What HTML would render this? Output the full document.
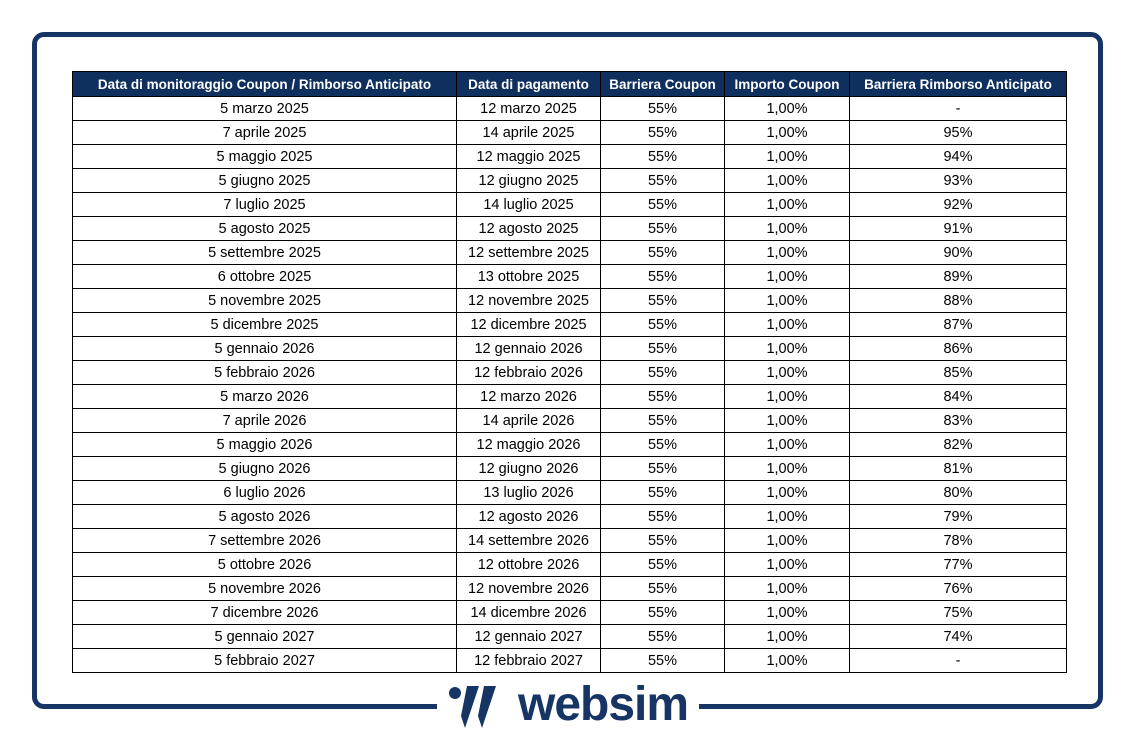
<!DOCTYPE html>
<html><head><meta charset="utf-8"><style>
body{margin:0;width:1136px;height:742px;background:#fff;position:relative;overflow:hidden;font-family:"Liberation Sans",sans-serif}
.frame{position:absolute;left:32px;top:32px;width:1061px;height:667px;border:5px solid #163564;border-radius:12px}
.gap{position:absolute;left:437px;top:695px;width:262px;height:20px;background:#fff}
table{position:absolute;left:72px;top:71px;border-collapse:collapse;font-size:14.5px;color:#000}
td,th{border:1px solid #000;height:23px;padding:0;text-align:center;white-space:nowrap}
th{background:#0f2f5e;color:#fff;font-weight:bold;height:24px;font-size:13.5px}
.logo{position:absolute;left:446px;top:682px;height:50px}
.w{position:absolute;left:518px;top:680px;font-size:48px;font-weight:bold;color:#163564;letter-spacing:-1px;line-height:50px}
</style></head><body>
<div class="frame"></div><div class="gap"></div>
<svg class="logo" width="60" height="50" viewBox="0 0 60 50">
<circle cx="9" cy="11" r="6" fill="#163564"/>
<polygon points="21,4 33,4 19,46 15,34" fill="#163564"/>
<polygon points="38,4 50,4 36,46 32,34" fill="#163564"/>
</svg>
<div class="w">websim</div>
<table>
<colgroup><col style="width:384px"><col style="width:144px"><col style="width:124px"><col style="width:125px"><col style="width:217px"></colgroup>
<tr><th>Data di monitoraggio Coupon / Rimborso Anticipato</th><th>Data di pagamento</th><th>Barriera Coupon</th><th>Importo Coupon</th><th>Barriera Rimborso Anticipato</th></tr>
<tr><td>5 marzo 2025</td><td>12 marzo 2025</td><td>55%</td><td>1,00%</td><td>-</td></tr>
<tr><td>7 aprile 2025</td><td>14 aprile 2025</td><td>55%</td><td>1,00%</td><td>95%</td></tr>
<tr><td>5 maggio 2025</td><td>12 maggio 2025</td><td>55%</td><td>1,00%</td><td>94%</td></tr>
<tr><td>5 giugno 2025</td><td>12 giugno 2025</td><td>55%</td><td>1,00%</td><td>93%</td></tr>
<tr><td>7 luglio 2025</td><td>14 luglio 2025</td><td>55%</td><td>1,00%</td><td>92%</td></tr>
<tr><td>5 agosto 2025</td><td>12 agosto 2025</td><td>55%</td><td>1,00%</td><td>91%</td></tr>
<tr><td>5 settembre 2025</td><td>12 settembre 2025</td><td>55%</td><td>1,00%</td><td>90%</td></tr>
<tr><td>6 ottobre 2025</td><td>13 ottobre 2025</td><td>55%</td><td>1,00%</td><td>89%</td></tr>
<tr><td>5 novembre 2025</td><td>12 novembre 2025</td><td>55%</td><td>1,00%</td><td>88%</td></tr>
<tr><td>5 dicembre 2025</td><td>12 dicembre 2025</td><td>55%</td><td>1,00%</td><td>87%</td></tr>
<tr><td>5 gennaio 2026</td><td>12 gennaio 2026</td><td>55%</td><td>1,00%</td><td>86%</td></tr>
<tr><td>5 febbraio 2026</td><td>12 febbraio 2026</td><td>55%</td><td>1,00%</td><td>85%</td></tr>
<tr><td>5 marzo 2026</td><td>12 marzo 2026</td><td>55%</td><td>1,00%</td><td>84%</td></tr>
<tr><td>7 aprile 2026</td><td>14 aprile 2026</td><td>55%</td><td>1,00%</td><td>83%</td></tr>
<tr><td>5 maggio 2026</td><td>12 maggio 2026</td><td>55%</td><td>1,00%</td><td>82%</td></tr>
<tr><td>5 giugno 2026</td><td>12 giugno 2026</td><td>55%</td><td>1,00%</td><td>81%</td></tr>
<tr><td>6 luglio 2026</td><td>13 luglio 2026</td><td>55%</td><td>1,00%</td><td>80%</td></tr>
<tr><td>5 agosto 2026</td><td>12 agosto 2026</td><td>55%</td><td>1,00%</td><td>79%</td></tr>
<tr><td>7 settembre 2026</td><td>14 settembre 2026</td><td>55%</td><td>1,00%</td><td>78%</td></tr>
<tr><td>5 ottobre 2026</td><td>12 ottobre 2026</td><td>55%</td><td>1,00%</td><td>77%</td></tr>
<tr><td>5 novembre 2026</td><td>12 novembre 2026</td><td>55%</td><td>1,00%</td><td>76%</td></tr>
<tr><td>7 dicembre 2026</td><td>14 dicembre 2026</td><td>55%</td><td>1,00%</td><td>75%</td></tr>
<tr><td>5 gennaio 2027</td><td>12 gennaio 2027</td><td>55%</td><td>1,00%</td><td>74%</td></tr>
<tr><td>5 febbraio 2027</td><td>12 febbraio 2027</td><td>55%</td><td>1,00%</td><td>-</td></tr>
</table>
</body></html>
